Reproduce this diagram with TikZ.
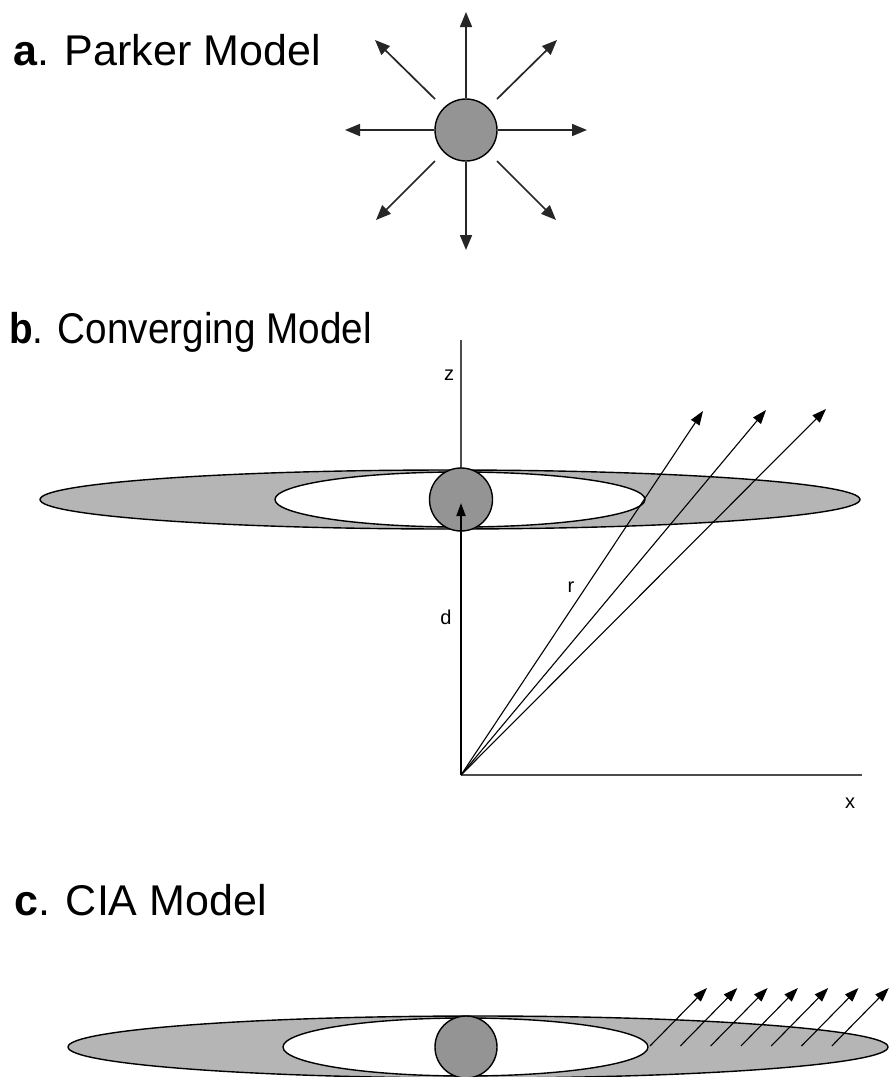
\documentclass[tikz,border=0pt]{standalone}
\usepackage{fontspec}
\setmainfont{Liberation Sans}
\usetikzlibrary{arrows.meta}
\definecolor{diskgray}{gray}{0.71}
\definecolor{sungray}{gray}{0.58}
\begin{document}
\begin{tikzpicture}[x=1pt,y=-1pt,
  title/.style={anchor=base west, inner sep=0pt, font=\fontsize{43}{50}\selectfont},
  small/.style={inner sep=0pt, font=\fontsize{20}{24}\selectfont},
  sunray/.style={draw=black!85, line width=1.7pt, -{Triangle[length=15pt,width=12pt]}},
  fieldray/.style={draw=black, line width=1.1pt, -{Triangle[length=14pt,width=10pt]}},
  axisline/.style={draw=black!70, line width=1.4pt},
  disk/.style={draw=black, line width=1.4pt, fill=diskgray},
  hole/.style={draw=black, line width=1.4pt, fill=white},
  sun/.style={circle, draw=black, line width=1.4pt, fill=sungray, inner sep=0pt, minimum size=#1},
]
\fill[white] (0,0) rectangle (890,1077);
\useasboundingbox (0,0) rectangle (890,1077);

% ---------- panel a ----------
\node[title] (ta) at (13,65) {\textbf{a}. Parker Model};
\node[sun=62pt] (sa) at (466,130) {};
\coordinate (aU) at (466,12);
\coordinate (aD) at (466,250);
\coordinate (aL) at (345,130);
\coordinate (aR) at (587,130);
\coordinate (aUL) at (375,40);
\coordinate (aUR) at (557,40);
\coordinate (aLL) at (376,220);
\coordinate (aLR) at (556,220);
\coordinate (sUL) at (435,99);
\coordinate (sUR) at (497,99);
\coordinate (sLL) at (435,161);
\coordinate (sLR) at (497,161);
\draw[sunray] (sa.north) -- (aU);
\draw[sunray] (sa.south) -- (aD);
\draw[sunray] (sa.west) -- (aL);
\draw[sunray] (sa.east) -- (aR);
\draw[sunray] (sUL) -- (aUL);
\draw[sunray] (sUR) -- (aUR);
\draw[sunray] (sLL) -- (aLL);
\draw[sunray] (sLR) -- (aLR);

% ---------- panel b ----------
\node[title] (tb) at (9,343) {\scalebox{0.9}[1]{\textbf{b}. Converging Model}};
\coordinate (O) at (461,775);
\coordinate (ztop) at (461,340);
\coordinate (xend) at (862,775);
\draw[axisline] (ztop) -- (O);
\draw[axisline] (O) -- (xend);
\draw[disk] (450,499.5) ellipse [x radius=410, y radius=29.5];
\draw[hole] (460,499.5) ellipse [x radius=185, y radius=27.5];
\node[sun=63pt] (sb) at (461,499.5) {};
\coordinate (dtip) at (461,503);
\draw[black, line width=1.8pt, -{Triangle[length=13pt,width=9pt]}] (O) -- (dtip);
\coordinate (r1) at (703,411);
\coordinate (r2) at (766,410);
\coordinate (r3) at (826,409);
\draw[fieldray] (O) -- (r1);
\draw[fieldray] (O) -- (r2);
\draw[fieldray] (O) -- (r3);
\node[small] (lz) at (449,375) {z};
\node[small] (ld) at (446,617) {d};
\node[small] (lr) at (571,587) {r};
\node[small] (lx) at (850,803) {x};

% ---------- panel c ----------
\node[title] (tc) at (14,915) {\textbf{c}. CIA Model};
\draw[disk] (478,1047) ellipse [x radius=410, y radius=31];
\draw[hole] (465.5,1047) ellipse [x radius=182.5, y radius=29];
\node[sun=62pt] (sc) at (466,1047) {};
\foreach \i in {0,...,6}{
  \coordinate (cs\i) at ({650+30.3*\i},1046);
  \coordinate (ct\i) at ({707+30.3*\i},988);
  \draw[fieldray] (cs\i) -- (ct\i);
}
\end{tikzpicture}
\end{document}
